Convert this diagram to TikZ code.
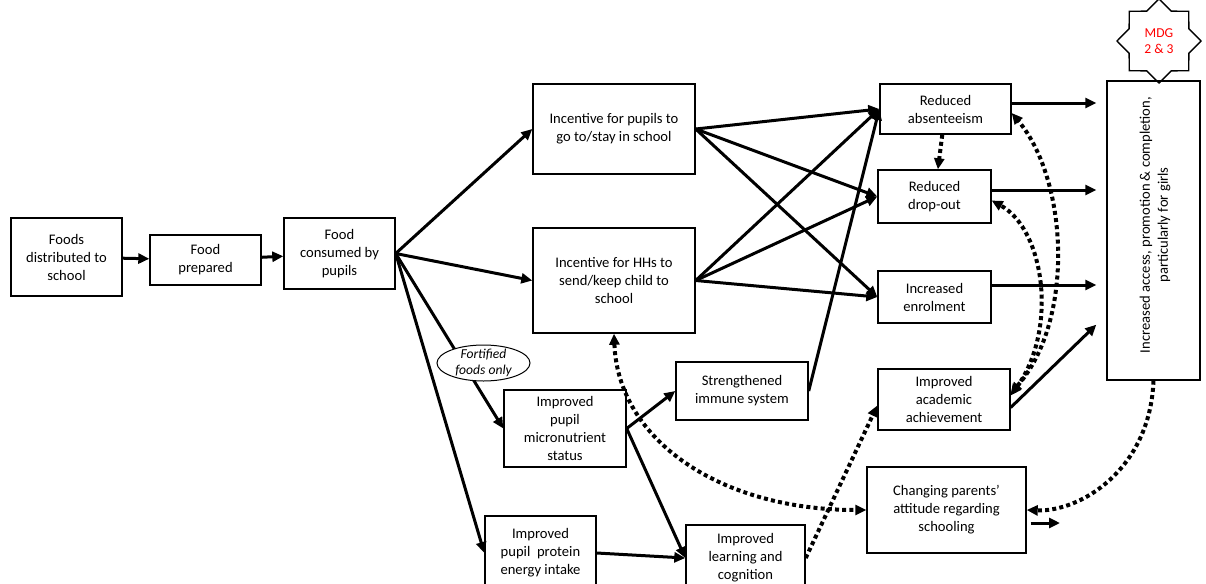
\documentclass[tikz,border=0pt]{standalone}
\usepackage{fontspec}
\setmainfont{Carlito}
\usetikzlibrary{arrows.meta,shapes.geometric,positioning}

\begin{document}
\begin{tikzpicture}[x=0.5pt, y=-0.5pt,
        font=\fontsize{7.3}{9}\selectfont,
        >={Triangle[length=5.5pt,width=5pt]},
        box/.style={draw, line width=0.7pt, align=center, inner sep=1pt},
        arr/.style={line width=1.5pt, ->},
        dots/.style={line width=2pt, dash pattern=on 2pt off 1.6pt, ->}]
        \useasboundingbox (0,0) rectangle (1206,584);

        \node[box, minimum width=55.5pt, minimum height=39pt] (dist) at (66.5,257) {Foods\\distributed to\\school};
        \node[box, minimum width=55.5pt, minimum height=25pt] (prep) at (205.5,260) {Food\\prepared};
        \node[box, minimum width=55.5pt, minimum height=35.5pt] (cons) at (339.5,253.5) {Food\\consumed by\\pupils};
        \node[box, minimum width=81pt, minimum height=45pt] (incP) at (614,129) {Incentive for pupils to\\go to/stay in school};
        \node[box, minimum width=81pt, minimum height=52.5pt] (incH) at (614,280.5) {Incentive for HHs to\\send/keep child to\\school};
        \node[box, minimum width=61pt, minimum height=38.5pt] (micro) at (565,428.5) {Improved\\pupil\\micronutrient\\status};
        \node[box, minimum width=66pt, minimum height=29pt] (immune) at (742,391) {Strengthened\\immune system};
        \node[box, minimum width=55.5pt, minimum height=37pt] (prot) at (540.5,553) {Improved\\pupil~ protein\\energy intake};
        \node[box, minimum width=59.5pt, minimum height=33pt] (learn) at (745.5,558) {Improved\\learning and\\cognition};
        \node[box, minimum width=65.5pt, minimum height=25pt] (absent) at (945.5,109) {Reduced\\absenteeism};
        \node[box, minimum width=56.5pt, minimum height=26.5pt] (drop) at (934.5,196.5) {Reduced\\drop-out};
        \node[box, minimum width=56.5pt, minimum height=26pt] (enrol) at (934.5,297) {Increased\\enrolment};
        \node[box, minimum width=66pt, minimum height=30.5pt] (acad) at (944,399.5) {Improved\\academic\\achievement};
        \node[box, minimum width=79.5pt, minimum height=43pt] (parents) at (946.5,510) {Changing parents’\\attitude regarding\\schooling};
        \node[box, minimum width=46.5pt, minimum height=149.5pt] (goal) at (1153.5,230.5) {};
        \node[rotate=90, align=center] (goaltext) at (1155,225) {Increased access, promotion \& completion,\\particularly for girls};
        \node[star, star points=8, star point ratio=1.3, draw, line width=0.7pt, minimum size=42pt,
              inner sep=0pt, text=red, align=center, font=\fontsize{6.8}{8.3}\selectfont] (mdg) at (1159,41) {MDG\\2 \& 3};

        \draw[arr] (dist) -- (prep);
        \draw[arr] (prep) -- (cons);
        \foreach \t in {incP, incH, micro, prot}
            \draw[arr] (cons.east) -- (\t.west);
        \foreach \s in {incP, incH}
            \foreach \t in {absent, drop, enrol}
                \draw[arr] (\s.east) -- (\t.west);
        \draw[arr] (immune.east) -- (absent.west);
        \draw[arr] (micro.east) -- (immune.west);
        \draw[arr] (micro.east) -- (learn.west);
        \draw[arr] (prot.east) -- (learn.west);
        \draw[arr, shorten >=5pt] ([yshift=3pt]absent.east) -- ([yshift=3pt]absent.east -| goal.west);
        \draw[arr, shorten >=5pt] ([yshift=3.25pt]drop.east) -- ([yshift=3.25pt]drop.east -| goal.west);
        \draw[arr, shorten >=5pt] ([yshift=6pt]enrol.east) -- ([yshift=6pt]enrol.east -| goal.west);
        \draw[arr] ([yshift=-4pt]acad.east) -- ([xshift=-5pt,yshift=28pt]goal.south west);
        \coordinate (pout) at (1060,523);
        \draw[arr, shorten <=2pt] ([yshift=-6.5pt]parents.east) -- (pout);

        \node[ellipse, draw, fill=white, line width=0.5pt, minimum width=46.5pt, minimum height=18pt] (fort) at (483.5,363) {};
        \node[align=center, font=\fontsize{6.8}{8.3}\selectfont\itshape] (fortlabel) at (fort) {Fortified\\foods only};

        \draw[dots] (absent) -- (drop);
        \draw[dots, <->] ([yshift=3pt]acad.east) .. controls (1075,320) and (1068,180) .. ([yshift=-2pt]absent.east);
        \draw[dots, <->] ([yshift=2pt]acad.east) .. controls (1058,330) and (1045,230) .. ([yshift=-2pt]drop.east);
        \draw[dots, <->] (incH.south) .. controls (618,440) and (720,510) .. (parents.west);
        \draw[dots] (learn.east) -- ([yshift=-3pt]acad.west);
        \draw[dots] (goal.south) .. controls (1150,470) and (1080,512) .. (parents.east);
    \end{tikzpicture}
\end{document}
